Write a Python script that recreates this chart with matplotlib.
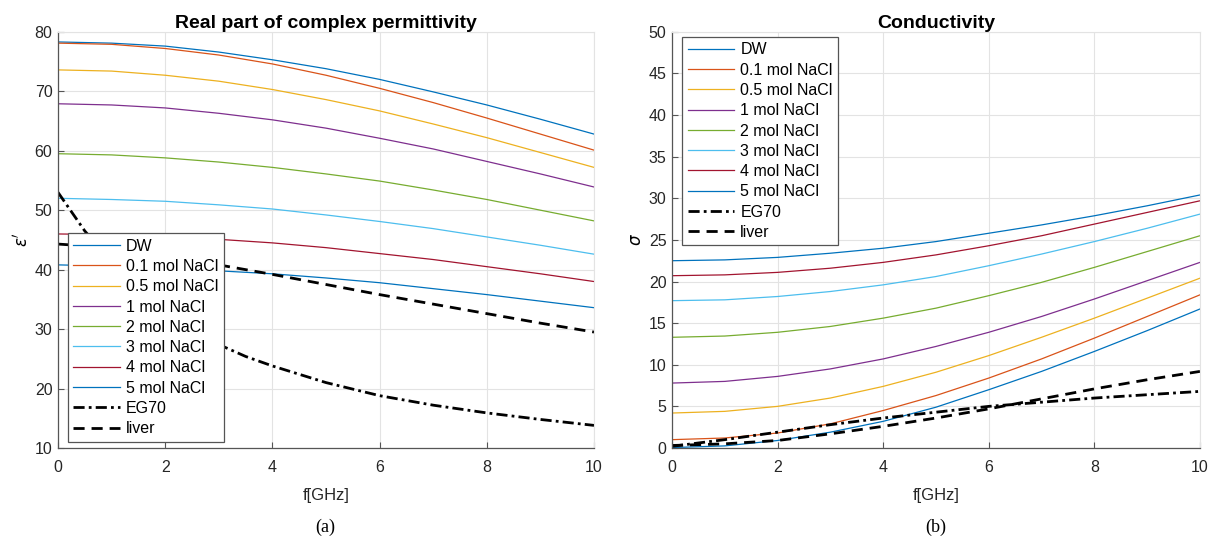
import matplotlib
matplotlib.use("Agg")
import matplotlib.pyplot as plt

# ---------------- data ----------------
freq = [0, 1, 2, 3, 4, 5, 6, 7, 8, 9, 10]
labels = ["DW", "0.1 mol NaCl", "0.5 mol NaCl", "1 mol NaCl", "2 mol NaCl",
          "3 mol NaCl", "4 mol NaCl", "5 mol NaCl"]

eps_dw   = [78.3, 78.1, 77.6, 76.6, 75.3, 73.8, 72.0, 69.9, 67.7, 65.3, 62.8]
eps_01   = [78.1, 77.9, 77.2, 76.1, 74.6, 72.7, 70.5, 68.1, 65.5, 62.8, 60.1]
eps_05   = [73.6, 73.4, 72.7, 71.7, 70.3, 68.6, 66.7, 64.5, 62.2, 59.7, 57.2]
eps_1    = [67.9, 67.7, 67.2, 66.3, 65.2, 63.8, 62.1, 60.3, 58.2, 56.1, 53.9]
eps_2    = [59.5, 59.3, 58.8, 58.1, 57.2, 56.1, 54.9, 53.4, 51.8, 50.0, 48.2]
eps_3    = [52.0, 51.8, 51.5, 50.9, 50.2, 49.2, 48.1, 46.9, 45.5, 44.1, 42.6]
eps_4    = [46.0, 45.9, 45.5, 45.1, 44.5, 43.7, 42.7, 41.7, 40.5, 39.3, 38.0]
eps_5    = [40.8, 40.6, 40.2, 39.8, 39.3, 38.6, 37.8, 36.8, 35.8, 34.7, 33.6]
freq_eg  = [0, 0.5, 1, 1.5, 2, 2.5, 3, 3.5, 4, 5, 6, 7, 8, 9, 10]
eps_eg70 = [53.0, 46.5, 41.3, 37.0, 33.3, 30.1, 27.4, 25.4, 23.8, 21.0, 18.8, 17.2, 15.9, 14.8, 13.8]
eps_liver = [44.3, 43.7, 42.5, 40.8, 39.2, 37.5, 35.8, 34.2, 32.6, 31.0, 29.5]

sig_dw   = [0.05, 0.25, 0.9, 1.9, 3.2, 4.9, 7.0, 9.2, 11.6, 14.1, 16.7]
sig_01   = [1.0, 1.2, 1.8, 2.9, 4.5, 6.3, 8.4, 10.7, 13.2, 15.8, 18.4]
sig_05   = [4.2, 4.4, 5.0, 6.0, 7.4, 9.1, 11.1, 13.3, 15.6, 18.0, 20.4]
sig_1    = [7.8, 8.0, 8.6, 9.5, 10.7, 12.2, 13.9, 15.8, 17.9, 20.1, 22.3]
sig_2    = [13.3, 13.45, 13.9, 14.6, 15.6, 16.8, 18.3, 19.9, 21.7, 23.6, 25.5]
sig_3    = [17.7, 17.8, 18.2, 18.8, 19.6, 20.6, 21.9, 23.3, 24.8, 26.4, 28.1]
sig_4    = [20.7, 20.8, 21.1, 21.6, 22.3, 23.2, 24.3, 25.5, 26.9, 28.3, 29.7]
sig_5    = [22.5, 22.6, 22.9, 23.4, 24.0, 24.8, 25.8, 26.8, 27.9, 29.1, 30.4]
sig_eg70 = [0.2, 1.0, 1.9, 2.8, 3.6, 4.3, 5.0, 5.5, 6.0, 6.4, 6.8]
sig_liver = [0.3, 0.5, 0.9, 1.7, 2.6, 3.6, 4.7, 5.9, 7.1, 8.2, 9.2]

eps_series = [eps_dw, eps_01, eps_05, eps_1, eps_2, eps_3, eps_4, eps_5]
sig_series = [sig_dw, sig_01, sig_05, sig_1, sig_2, sig_3, sig_4, sig_5]

colors = ["#0072BD", "#D95319", "#EDB120", "#7E2F8E", "#77AC30",
          "#4DBEEE", "#A2142F", "#0072BD"]

# ---------------- style ----------------
plt.rcParams['font.family'] = ['Liberation Sans', 'DejaVu Sans']
plt.rcParams['font.size'] = 11

fig = plt.figure(figsize=(12.16, 5.49), dpi=100)
ax1 = fig.add_axes([0.0477, 0.184, 0.4408, 0.758])
ax2 = fig.add_axes([0.5526, 0.184, 0.4342, 0.758])


def style(ax):
    ax.grid(True, color="#e3e3e3", linewidth=0.8)
    ax.set_axisbelow(True)
    for s in ["left", "bottom"]:
        ax.spines[s].set_color("#555555")
        ax.spines[s].set_linewidth(0.9)
    for s in ["top", "right"]:
        ax.spines[s].set_color("#e3e3e3")
        ax.spines[s].set_linewidth(0.8)
    ax.tick_params(direction="in", length=4, width=0.8, color="#555555",
                   labelcolor="#262626", labelsize=11.5, top=False, right=False)
    ax.tick_params(axis="x", pad=9)
    ax.tick_params(axis="y", pad=4)
    ax.set_xlim(0, 10)
    ax.set_xticks([0, 2, 4, 6, 8, 10])
    ax.set_xlabel("f[GHz]", fontsize=12, color="#262626", labelpad=9)


leg_kw = dict(fontsize=11.5, fancybox=False, framealpha=1, edgecolor="#555555",
              handlelength=2.9, labelspacing=0.33, borderpad=0.35,
              handletextpad=0.4, borderaxespad=0)

# left panel
for y, c, l in zip(eps_series, colors, labels):
    ax1.plot(freq, y, color=c, lw=0.9, label=l)
ax1.plot(freq_eg, eps_eg70, color="black", lw=2, ls=(0, (4, 1.5, 1, 1.5)), label="EG70")
ax1.plot(freq, eps_liver, color="black", lw=2, ls=(0, (4, 2.5)), label="liver")
style(ax1)
ax1.set_ylim(10, 80)
ax1.set_yticks(range(10, 81, 10))
ax1.set_title("Real part of complex permittivity", fontsize=14, fontweight="bold", pad=3)
ax1.set_ylabel("$\\epsilon'$", fontsize=12, labelpad=3)
leg1 = ax1.legend(loc="lower left", bbox_to_anchor=(0.018, 0.015), **leg_kw)
leg1.get_frame().set_linewidth(0.9)

# right panel
for y, c, l in zip(sig_series, colors, labels):
    ax2.plot(freq, y, color=c, lw=0.9, label=l)
ax2.plot(freq, sig_eg70, color="black", lw=2, ls=(0, (4, 1.5, 1, 1.5)), label="EG70")
ax2.plot(freq, sig_liver, color="black", lw=2, ls=(0, (4, 2.5)), label="liver")
style(ax2)
ax2.set_ylim(0, 50)
ax2.set_yticks(range(0, 51, 5))
ax2.set_title("Conductivity", fontsize=14, fontweight="bold", pad=3)
ax2.set_ylabel("$\\sigma$", fontsize=12, labelpad=3)
leg2 = ax2.legend(loc="upper left", bbox_to_anchor=(0.019, 0.988), **leg_kw)
leg2.get_frame().set_linewidth(0.9)

fig.text(0.2675, 0.04, "(a)", fontsize=13, family=["Liberation Serif", "DejaVu Serif"],
         ha="center", va="center")
fig.text(0.7697, 0.04, "(b)", fontsize=13, family=["Liberation Serif", "DejaVu Serif"],
         ha="center", va="center")

fig.savefig("out.png", dpi=100)
